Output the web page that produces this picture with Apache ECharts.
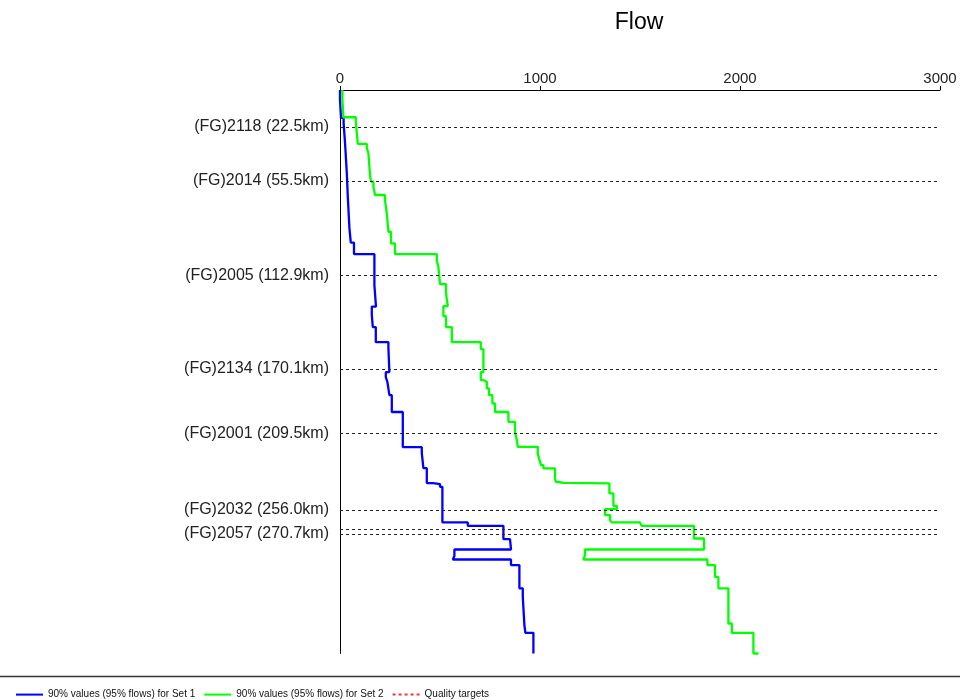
<!DOCTYPE html>
<html>
<head>
<meta charset="utf-8">
<script src="https://cdn.jsdelivr.net/npm/echarts@6/dist/echarts.min.js"></script>
<style>html,body{margin:0;padding:0;background:#fff;}#chart{width:960px;height:700px;}</style>
</head>
<body>
<div id="chart"></div>
<script>
// Quality target locations (km) and their labels
const targetKm = [22.5, 55.5, 112.9, 170.1, 209.5, 256.0, 267.6, 270.7];
const targetLabels = ['(FG)2118 (22.5km)', '(FG)2014 (55.5km)', '(FG)2005 (112.9km)', '(FG)2134 (170.1km)', '(FG)2001 (209.5km)', '(FG)2032 (256.0km)', '', '(FG)2057 (270.7km)'];

// Set 1: km where the value changes, and the flow value from that km on
const set1Km = [0, 6, 17, 20, 32, 50.6, 51.8, 65, 84, 93, 100, 119, 132, 137, 144.5, 153.7, 157.3, 172, 175, 178, 186, 196.3, 217.7, 221.3, 230.5, 239.6, 240.2, 241.9, 263.6, 265.7, 273.8, 274.4, 280.1, 284.1, 286.2, 289.6, 303.8, 309.1, 326.2, 330.9, 343.5];
const set1Flow = [0, 5, 18, 25, 34, 25, 39, 47, 54, 70, 172, 180, 159, 164, 179, 242, 247, 229, 237, 247, 259, 314, 409, 417, 434, 465, 500, 512, 639, 817, 850, 855, 572, 564, 855, 897, 914, 922, 927, 967, 967];

// Set 2
const set2Km = [0, 6, 16.6, 19.3, 32.9, 35.5, 38.4, 51.8, 55.9, 59, 64, 67.1, 75.2, 86.4, 93.5, 100, 104, 108, 118.3, 124, 131.7, 137.8, 144.5, 153.7, 157.9, 172, 176.8, 177.9, 181.9, 186, 191, 196.3, 202.3, 208.4, 213.4, 217.5, 221.5, 224.6, 228.7, 230.7, 236.8, 238.8, 239.5, 239.8, 245.9, 253.5, 255.5, 259.1, 262.2, 263.6, 264.3, 265.7, 273.4, 280.1, 283.5, 286.2, 289.6, 296.8, 303.8, 325.2, 330.9, 343.5];
const set2Flow = [12, 17, 79, 89, 134, 142, 150, 155, 167, 175, 225, 234, 242, 255, 275, 484, 492, 500, 530, 539, 517, 530, 559, 704, 717, 704, 715, 734, 745, 762, 775, 842, 875, 884, 889, 989, 995, 1005, 1017, 1075, 1079, 1087, 1120, 1347, 1367, 1384, 1325, 1350, 1358, 1500, 1508, 1770, 1820, 1225, 1217, 1837, 1875, 1892, 1942, 1959, 2067, 2092];

const seriesNames = ['90% values (95% flows) for Set 1', '90% values (95% flows) for Set 2', 'Quality targets'];

const FONT = "'Liberation Sans', Arial, sans-serif";
const chart = echarts.init(document.getElementById('chart'), null, {renderer: 'canvas'});

const labelMap = {};
targetKm.forEach((k, i) => { labelMap[k] = targetLabels[i]; });

chart.setOption({
  animation: false,
  backgroundColor: '#fff',
  title: {
    text: 'Flow', left: 634, top: 6, textAlign: 'center',
    textStyle: {fontFamily: FONT, fontSize: 23, fontWeight: 'normal', color: '#000'}
  },
  grid: {left: 340, right: 20, top: 90, bottom: 46.5, containLabel: false},
  xAxis: {
    type: 'value', position: 'top', min: 0, max: 3000, interval: 1000,
    axisLine: {show: true, lineStyle: {color: '#000', width: 1}},
    axisTick: {show: true, length: 4, lineStyle: {color: '#000'}},
    axisLabel: {fontFamily: FONT, fontSize: 15, color: '#222', margin: 4, formatter: v => String(v)},
    splitLine: {show: false}
  },
  yAxis: {
    type: 'value', inverse: true, min: 0, max: 343.5,
    axisLine: {show: true, onZero: false, lineStyle: {color: '#000', width: 1}},
    axisTick: {show: false},
    axisLabel: {
      fontFamily: FONT, fontSize: 16, color: '#222', margin: 11, padding: [5, 0, 0, 0],
      customValues: targetKm.filter((k, i) => targetLabels[i] !== ''),
      formatter: v => labelMap[v] || ''
    },
    splitLine: {show: false}
  },
  legend: {
    left: 10, top: 684, itemWidth: 27, itemHeight: 14, itemGap: 8,
    itemStyle: {opacity: 0},
    textStyle: {fontFamily: FONT, fontSize: 10, color: '#111'},
    data: seriesNames
  },
  graphic: [{
    type: 'line', shape: {x1: 0, y1: 676.5, x2: 960, y2: 676.5},
    style: {stroke: '#333', lineWidth: 1.5}, silent: true
  }],
  series: [
    {
      name: seriesNames[2], type: 'line', data: [], symbol: 'none',
      lineStyle: {color: '#ff3030', width: 1, type: [3, 3]}, itemStyle: {color: '#ff3030'},
      markLine: {
        silent: true, symbol: 'none', label: {show: false},
        lineStyle: {color: '#222', width: 1, type: [3, 3]},
        data: targetKm.map(k => ({yAxis: k}))
      }
    },
    {
      name: seriesNames[0], type: 'line', step: 'start', symbol: 'none', clip: false,
      lineStyle: {color: '#0000ff', width: 2.3}, itemStyle: {color: '#0000ff'},
      data: set1Km.map((k, i) => [set1Flow[i], k])
    },
    {
      name: seriesNames[1], type: 'line', step: 'start', symbol: 'none', clip: false,
      lineStyle: {color: '#00ff00', width: 2.3}, itemStyle: {color: '#00ff00'},
      data: set2Km.map((k, i) => [set2Flow[i], k])
    }
  ]
});
</script>
</body>
</html>
